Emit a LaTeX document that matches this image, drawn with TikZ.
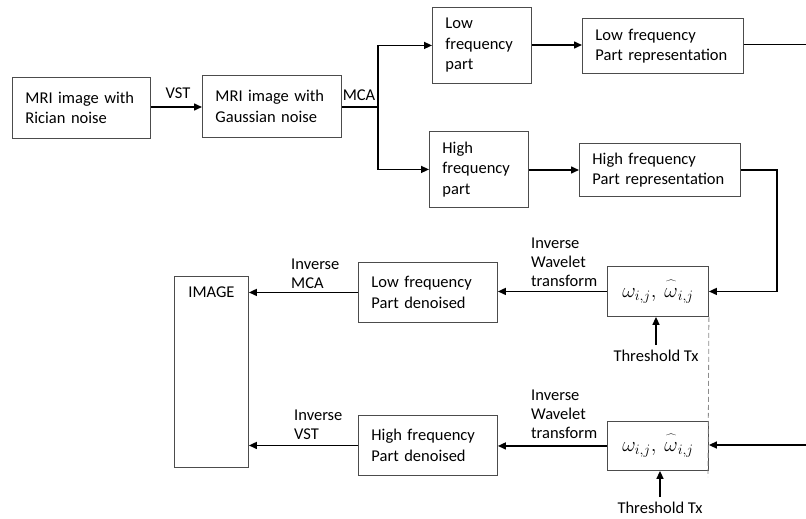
\documentclass[tikz,border=0pt]{standalone}
\usepackage{fontspec}
\setmainfont{Carlito}
\usetikzlibrary{arrows.meta,calc}
\begin{document}
\begin{tikzpicture}[x=1pt,y=-1pt,
  box/.style={draw=black!70, line width=0.9pt, rectangle, inner xsep=13pt, inner ysep=0pt,
    align=left, anchor=north west, font=\fontsize{16.5}{20.5}\selectfont},
  mbox/.style={draw=black!70, line width=0.9pt, rectangle, inner sep=0pt, align=center,
    anchor=north west, font=\fontsize{20}{24}\selectfont},
  lbl/.style={font=\fontsize{16.5}{19}\selectfont, inner sep=0pt, align=left},
  conn/.style={line width=1.5pt, -{Triangle[length=8pt,width=7pt]}},
  plain/.style={line width=1.5pt}]
\useasboundingbox (0,0) rectangle (806,519);

% boxes
\node[box, minimum width=138pt, minimum height=61pt, text width=112pt] (ric) at (12,77) {\mbox{MRI image with}\\\mbox{Rician noise}};
\node[box, minimum width=139pt, minimum height=62pt, text width=113pt] (gau) at (202,75) {\mbox{MRI image with}\\\mbox{Gaussian noise}};
\node[box, minimum width=99pt, minimum height=76pt, text width=73pt] (lfp) at (432,7) {Low\\\mbox{frequency}\\part};
\node[box, minimum width=161pt, minimum height=55pt, text width=135pt] (lfr) at (582,18) {\mbox{Low frequency}\\\mbox{Part representation}};
\node[box, minimum width=99pt, minimum height=76pt, text width=73pt] (hfp) at (429,131) {High\\\mbox{frequency}\\part};
\node[box, minimum width=161pt, minimum height=53pt, text width=135pt] (hfr) at (579,143) {\mbox{High frequency}\\\mbox{Part representation}};
\node[mbox, minimum width=101pt, minimum height=50pt] (om1) at (607,266) {$\omega_{i,j},\ \widehat{\omega\vphantom{l}}_{i,j}$};
\node[mbox, minimum width=101pt, minimum height=49pt] (om2) at (607,421) {$\omega_{i,j},\ \widehat{\omega\vphantom{l}}_{i,j}$};
\node[box, minimum width=139pt, minimum height=60pt, text width=113pt] (lfd) at (358,262) {\mbox{Low frequency}\\\mbox{Part denoised}};
\node[box, minimum width=139pt, minimum height=60pt, text width=113pt] (hfd) at (358,415) {\mbox{High frequency}\\\mbox{Part denoised}};
\node[box, minimum width=74pt, minimum height=191pt, inner xsep=0pt,
  label={[anchor=north, inner sep=0pt, yshift=-11pt, font=\fontsize{16.5}{20.5}\selectfont]north:IMAGE}] (img) at (174,276) {};

% labels
\node[lbl] (vst) at (178,93) {VST};
\node[lbl] (mca) at (359,95) {MCA};
\node[lbl, anchor=west] (imca) at (291,274) {Inverse\\MCA};
\node[lbl, anchor=west] (ivst) at (294,425) {Inverse\\VST};
\node[lbl, anchor=west] (iwt1) at (531,262) {Inverse\\Wavelet\\transform};
\node[lbl, anchor=west] (iwt2) at (531,414) {Inverse\\Wavelet\\transform};
\node[lbl] (thr1) at (656,356) {Threshold Tx};
\node[lbl] (thr2) at (660,508) {Threshold Tx};

% coordinates
\coordinate (J) at (378,107);
\coordinate (R) at (777,0);
\coordinate (E1) at (806,45);
\coordinate (E2) at (806,445);
\coordinate (D) at (708,477);

% connectors
\draw[conn] (ric.east |- 0,107) -- (gau.west |- 0,107);
\draw[plain] (gau.east |- J) -- (J);
\draw[conn] (J) |- (lfp.west);
\draw[conn] (J) |- (hfp.west);
\draw[conn] (lfp.east |- 0,45) -- (lfr.west |- 0,45);
\draw[line width=1pt] (lfr.east |- E1) -- (E1);
\draw[conn] (hfp.east |- 0,170) -- (hfr.west |- 0,170);
\draw[conn] (hfr.east |- 0,170) -- (R |- 0,170) -- (R |- om1.east) -- (om1.east);
\draw[conn] (E2) -- (om2.east |- E2);
\draw[conn] (om1.west) -- (om1.west -| lfd.east);
\draw[conn] (om2.west) -- (om2.west -| hfd.east);
\draw[conn] (lfd.west) -- (lfd.west -| img.east);
\draw[conn] (hfd.west) -- (hfd.west -| img.east);
\draw[conn] ([yshift=5pt]thr1.north) -- (thr1.north |- om1.south);
\draw[conn] ([yshift=5pt]thr2.north) -- (thr2.north |- om2.south);
\draw[black!45, dashed, line width=0.8pt, dash pattern=on 5pt off 3pt] (om1.south east) -- (D);
\end{tikzpicture}
\end{document}
